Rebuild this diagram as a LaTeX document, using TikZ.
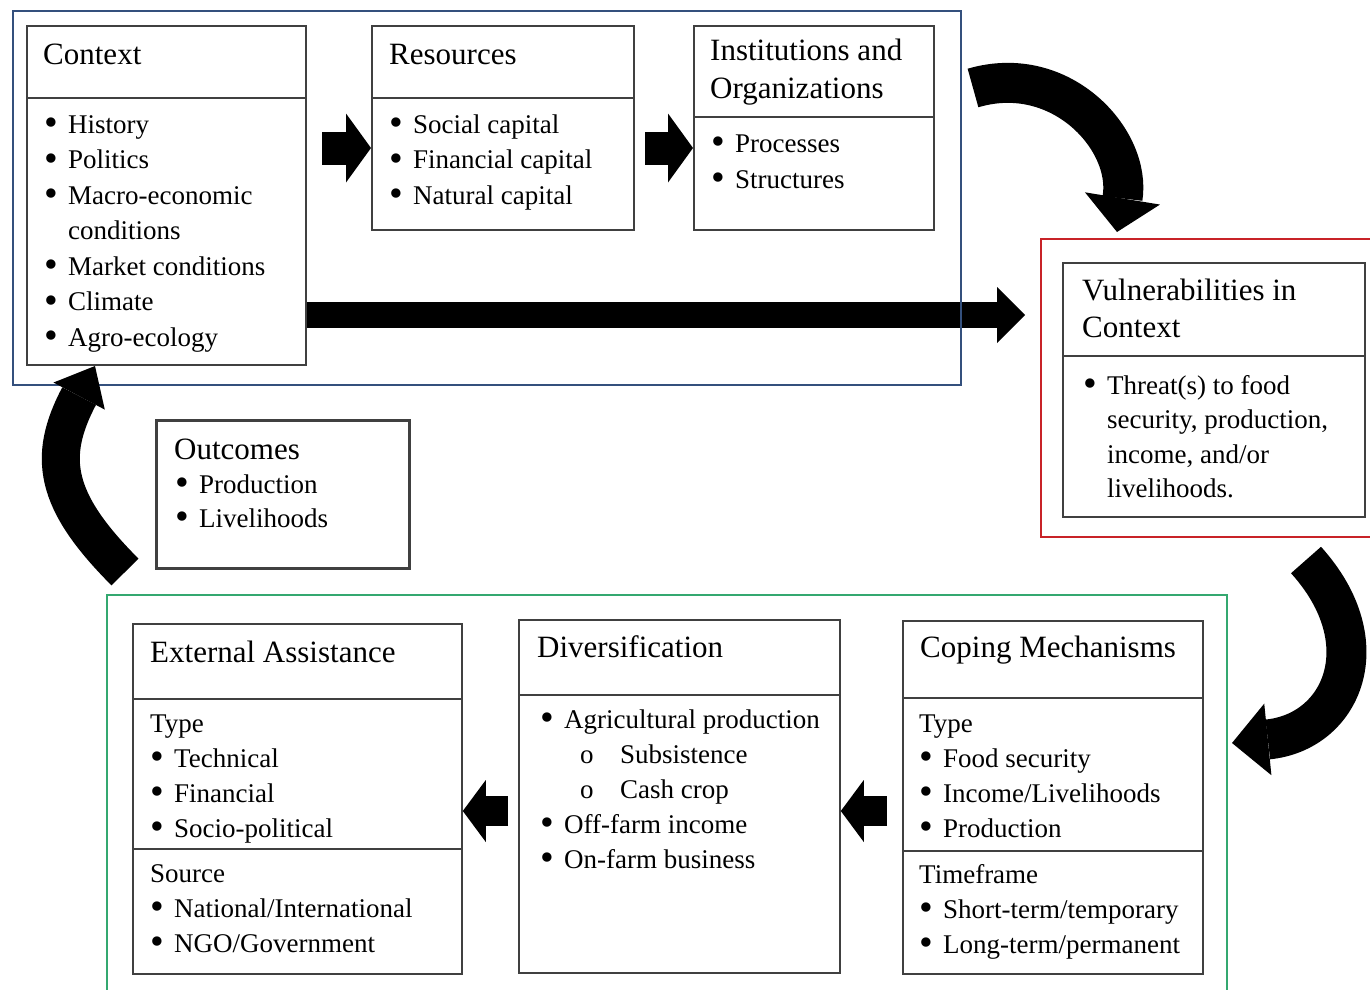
\documentclass[tikz,border=0pt]{standalone}
\usepackage{fontspec}
\setmainfont{Liberation Serif}
\usetikzlibrary{arrows.meta}
\definecolor{zoneblue}{RGB}{52,80,125}
\definecolor{zonered}{RGB}{200,35,40}
\definecolor{zonegreen}{RGB}{52,168,112}
\newcommand{\bl}[1]{\makebox[24pt][l]{\raisebox{-0.1em}{\scalebox{1.45}{\textbullet}}}#1}
\newcommand{\sbl}[1]{\hspace*{40pt}\makebox[40pt][l]{o}#1}
\newcommand{\ind}[1]{\hspace*{24pt}#1}

\begin{document}
\begin{tikzpicture}[x=1pt,y=-1pt,
    panel/.style={draw=black!75,line width=1.8pt,fill=white,inner sep=0pt,anchor=north west},
    zone/.style={draw=#1,line width=2pt,inner sep=0pt,anchor=north west},
    heading/.style={anchor=base west,inner sep=0pt,align=flush left,text width=#1,font=\fontsize{31}{38}\selectfont},
    heading/.default=300,
    items/.style={anchor=base west,inner sep=0pt,align=flush left,text width=#1,font=\fontsize{27}{35}\selectfont},
    items/.default=300,
    fat/.style={draw=black,line width=#1}]
  \useasboundingbox (0,0) rectangle (1370,990);

  \node[panel,minimum width=279,minimum height=72] (ctxhead) at (26,25) {};
  \node[panel,minimum width=279,minimum height=267] (ctxbody) at (26,97) {};
  \node[heading] (ctxtitle) at (43,64) {Context};
  \node[items=262,font=\fontsize{27}{35.5}\selectfont] (ctxlist) at (44,133) {\bl{History}\\\bl{Politics}\\\bl{Macro-economic}\\\ind{conditions}\\\bl{Market conditions}\\\bl{Climate}\\\bl{Agro-ecology}};

  \node[panel,minimum width=262,minimum height=72] (reshead) at (371,25) {};
  \node[panel,minimum width=262,minimum height=132] (resbody) at (371,97) {};
  \node[heading] (restitle) at (389,64) {Resources};
  \node[items=240,font=\fontsize{27}{35.5}\selectfont] (reslist) at (389,133) {\bl{Social capital}\\\bl{Financial capital}\\\bl{Natural capital}};

  \node[panel,minimum width=240,minimum height=91] (insthead) at (693,25) {};
  \node[panel,minimum width=240,minimum height=113] (instbody) at (693,116) {};
  \node[heading] (insttitle) at (710,61) {Institutions and\\Organizations};
  \node[items=220,font=\fontsize{27}{36}\selectfont] (instlist) at (711,152) {\bl{Processes}\\\bl{Structures}};

  \node[panel,minimum width=302,minimum height=93] (vulnhead) at (1062,262) {};
  \node[panel,minimum width=302,minimum height=161] (vulnbody) at (1062,355) {};
  \node[heading,font=\fontsize{31}{37}\selectfont] (vulntitle) at (1082,300) {Vulnerabilities in\\Context};
  \node[items=280,font=\fontsize{27}{34.5}\selectfont] (vulnlist) at (1083,394) {\bl{Threat(s) to food}\\\ind{security, production,}\\\ind{income, and/or}\\\ind{livelihoods.}};

  \node[panel,line width=2.6pt,minimum width=253,minimum height=148] (outbox) at (155,419) {};
  \node[heading] (outtitle) at (174,459) {Outcomes};
  \node[items=220,font=\fontsize{27}{34}\selectfont] (outlist) at (175,493) {\bl{Production}\\\bl{Livelihoods}};

  \node[panel,minimum width=329,minimum height=75] (exthead) at (132,623) {};
  \node[panel,minimum width=329,minimum height=150] (exttype) at (132,698) {};
  \node[panel,minimum width=329,minimum height=125] (extsource) at (132,848) {};
  \node[heading] (exttitle) at (150,662) {External Assistance};
  \node[items] (exttypelist) at (150,732) {Type\\\bl{Technical}\\\bl{Financial}\\\bl{Socio-political}};
  \node[items] (extsourcelist) at (150,882) {Source\\\bl{National/International}\\\bl{NGO/Government}};

  \node[panel,minimum width=321,minimum height=75] (divhead) at (518,619) {};
  \node[panel,minimum width=321,minimum height=278] (divbody) at (518,694) {};
  \node[heading] (divtitle) at (537,657) {Diversification};
  \node[items] (divlist) at (540,728) {\bl{Agricultural production}\\\sbl{Subsistence}\\\sbl{Cash crop}\\\bl{Off-farm income}\\\bl{On-farm business}};

  \node[panel,minimum width=300,minimum height=77] (cophead) at (902,620) {};
  \node[panel,minimum width=300,minimum height=153] (coptype) at (902,697) {};
  \node[panel,minimum width=300,minimum height=123] (coptime) at (902,850) {};
  \node[heading] (coptitle) at (920,657) {Coping Mechanisms};
  \node[items] (coptypelist) at (919,732) {Type\\\bl{Food security}\\\bl{Income/Livelihoods}\\\bl{Production}};
  \node[items] (coptimelist) at (919,883) {Timeframe\\\bl{Short-term/temporary}\\\bl{Long-term/permanent}};

  \coordinate (ctxout) at (322,148);
  \coordinate (resout) at (645,148);
  \coordinate (longtip) at (1025,315);
  \coordinate (copout) at (887,811);
  \coordinate (divout) at (508,811);
  \draw[fat=33pt,-{Triangle[length=25pt,width=69pt,line width=0pt]}] (ctxout) -- (resbody.west |- ctxout);
  \draw[fat=33pt,-{Triangle[length=25pt,width=69pt,line width=0pt]}] (resout) -- (insthead.west |- resout);
  \draw[fat=26pt,-{Triangle[length=28pt,width=56pt,line width=0pt]}] (ctxbody.east |- longtip) -- (longtip);
  \draw[fat=30pt,-{Triangle[length=23pt,width=62pt,line width=0pt]}] (copout) -- (divbody.east |- copout);
  \draw[fat=30pt,-{Triangle[length=23pt,width=62pt,line width=0pt]}] (divout) -- (exttype.east |- divout);

  \node[zone=zoneblue,minimum width=948,minimum height=374] (topzone) at (12,10) {};
  \node[zone=zonered,minimum width=345,minimum height=298] (redzone) at (1040,238) {};
  \node[zone=zonegreen,minimum width=1120,minimum height=420] (greenzone) at (106,594) {};

  \coordinate (topbend) at (973,88);
  \coordinate (topbendtip) at (1117,232);
  \coordinate (rightbend) at (1306,560);
  \coordinate (rightbendtip) at (1232,743);
  \coordinate (leftbend) at (125,572);
  \coordinate (leftbendtip) at (95,366);
  \draw[fat=40pt,-{Triangle[length=34pt,width=76pt,line width=0pt]}] (topbend) .. controls (1061,62) and (1132,140) .. (topbendtip);
  \draw[fat=40pt,-{Triangle[length=36pt,width=72pt,line width=0pt]}] (rightbend) .. controls (1381,643) and (1342,732) .. (rightbendtip);
  \draw[fat=38pt,-{Triangle[length=34pt,width=58pt,line width=0pt]}] (leftbend) .. controls (54,501) and (47,457) .. (leftbendtip);
\end{tikzpicture}
\end{document}
